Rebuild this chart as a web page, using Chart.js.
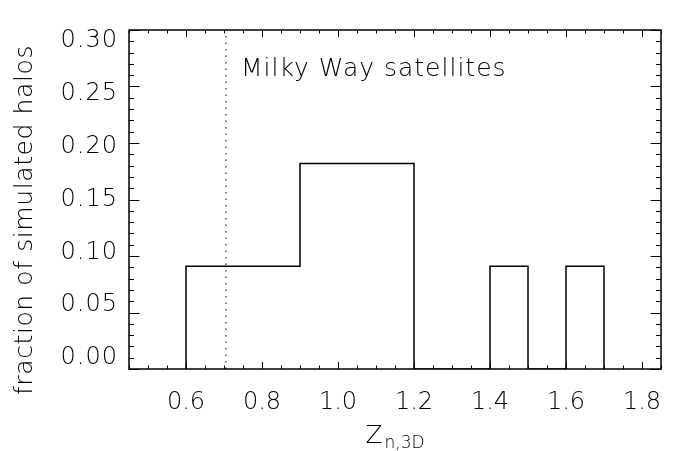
<!DOCTYPE html>
<html>
<head>
<meta charset="utf-8">
<script src="https://cdn.jsdelivr.net/npm/chart.js@4"></script>
<style>
  body { margin: 0; background: #fff; }
  canvas { display: block; }
</style>
</head>
<body>
<canvas id="histChart" width="678" height="451"></canvas>
<script>
// histogram bins (left edges, width 0.1) and fraction of halos per bin
const binEdges = [0.6, 0.7, 0.8, 0.9, 1.0, 1.1, 1.2, 1.3, 1.4, 1.5, 1.6];
const binWidth = 0.1;
const fractions = [0.0909, 0.0909, 0.0909, 0.1818, 0.1818, 0.1818, 0, 0, 0.0909, 0, 0.0909];

const xTicks = [0.6, 0.8, 1.0, 1.2, 1.4, 1.6, 1.8];
const yTicks = [0.00, 0.05, 0.10, 0.15, 0.20, 0.25, 0.30];

// Milky Way value, shown as dotted vertical line
const mwValue = 0.705;
const mwLabel = 'Milky Way satellites';

const FONT = 'DejaVu Sans';
const FONT_WEIGHT = '200';

// step outline of the histogram
const outline = [{ x: binEdges[0], y: 0 }];
binEdges.forEach((e, i) => outline.push({ x: e, y: fractions[i] }));
outline.push({ x: binEdges[binEdges.length - 1] + binWidth, y: 0 });

// frame with inward ticks on all four sides, y labels and titles
const frameTicks = {
    id: 'frameTicks',
    afterDatasetsDraw(chart) {
        const { ctx, chartArea: a, scales: { x, y } } = chart;
        ctx.save();
        ctx.strokeStyle = '#000';
        ctx.lineWidth = 1.5;
        ctx.strokeRect(a.left, a.top, a.right - a.left, a.bottom - a.top);

        ctx.lineWidth = 1;
        ctx.beginPath();
        for (let k = 9; k <= 37; k++) {
            const px = Math.round(x.getPixelForValue(k * 0.05)) + 0.5;
            const len = k % 4 === 0 ? 7 : 3.5;
            ctx.moveTo(px, a.bottom); ctx.lineTo(px, a.bottom - len);
            ctx.moveTo(px, a.top); ctx.lineTo(px, a.top + len);
        }
        for (let k = 0; k <= 30; k++) {
            const py = Math.round(y.getPixelForValue(k * 0.01)) + 0.5;
            const len = k % 5 === 0 ? 10.5 : 5;
            ctx.moveTo(a.left, py); ctx.lineTo(a.left + len, py);
            ctx.moveTo(a.right, py); ctx.lineTo(a.right - len, py);
        }
        ctx.stroke();

        ctx.fillStyle = '#000';

        // y tick labels, kept inside the frame at both ends
        const h = a.bottom - a.top;
        const inset = 11;
        ctx.font = `${FONT_WEIGHT} 24px "${FONT}"`;
        ctx.letterSpacing = '1px';
        ctx.textAlign = 'right';
        ctx.textBaseline = 'middle';
        yTicks.forEach(v => {
            const py = y.getPixelForValue(v);
            const ly = a.top + inset + (py - a.top) * (h - 2 * inset) / h;
            ctx.fillText(v.toFixed(2), a.left - 11, ly);
        });

        // annotation
        ctx.font = `${FONT_WEIGHT} 25px "${FONT}"`;
        ctx.letterSpacing = '1px';
        ctx.textAlign = 'left';
        ctx.fillText(mwLabel, x.getPixelForValue(0.75) - 2, y.getPixelForValue(0.265));

        // y axis title
        ctx.save();
        ctx.translate(25, 220);
        ctx.rotate(-Math.PI / 2);
        ctx.textAlign = 'center';
        ctx.letterSpacing = '0.6px';
        ctx.fillText('fraction of simulated halos', 0, 0);
        ctx.restore();

        // x axis title with subscript
        const cx = (a.left + a.right) / 2;
        ctx.textAlign = 'left';
        ctx.textBaseline = 'alphabetic';
        ctx.letterSpacing = '0px';
        ctx.font = `${FONT_WEIGHT} 25px "${FONT}"`;
        const zw = ctx.measureText('Z').width;
        ctx.font = `${FONT_WEIGHT} 17px "${FONT}"`;
        const sw = ctx.measureText('n,3D').width;
        const x0 = cx - (zw + sw + 2) / 2;
        ctx.font = `${FONT_WEIGHT} 25px "${FONT}"`;
        ctx.fillText('Z', x0, 443);
        ctx.font = `${FONT_WEIGHT} 17px "${FONT}"`;
        ctx.fillText('n,3D', x0 + zw + 2, 448);
        ctx.restore();
    }
};

Chart.defaults.font.family = FONT;
Chart.defaults.font.weight = FONT_WEIGHT;
Chart.defaults.color = '#000';

new Chart(document.getElementById('histChart'), {
    type: 'line',
    data: {
        datasets: [{
            data: outline,
            stepped: 'before',
            borderColor: '#000',
            borderWidth: 1.5,
            pointRadius: 0,
            fill: false
        }, {
            data: [{ x: mwValue, y: yTicks[0] }, { x: mwValue, y: yTicks[yTicks.length - 1] }],
            borderColor: '#555',
            borderWidth: 1.5,
            borderDash: [1.5, 5],
            pointRadius: 0,
            fill: false
        }]
    },
    options: {
        responsive: false,
        animation: false,
        layout: { padding: { top: 30, right: 17, left: 0, bottom: 0 } },
        plugins: {
            legend: { display: false },
            tooltip: { enabled: false }
        },
        scales: {
            x: {
                type: 'linear',
                min: 0.45,
                max: 1.85,
                afterBuildTicks: scale => { scale.ticks = xTicks.map(v => ({ value: v })); },
                afterFit: scale => { scale.height = 82; },
                grid: { display: false },
                border: { display: false },
                ticks: {
                    font: { size: 24 },
                    padding: 11,
                    maxRotation: 0,
                    callback: v => v.toFixed(1)
                }
            },
            y: {
                min: 0,
                max: 0.30,
                afterBuildTicks: scale => { scale.ticks = yTicks.map(v => ({ value: v })); },
                afterFit: scale => { scale.width = 129; },
                grid: { display: false },
                border: { display: false },
                ticks: { display: false }
            }
        }
    },
    plugins: [frameTicks]
});
</script>
</body>
</html>
